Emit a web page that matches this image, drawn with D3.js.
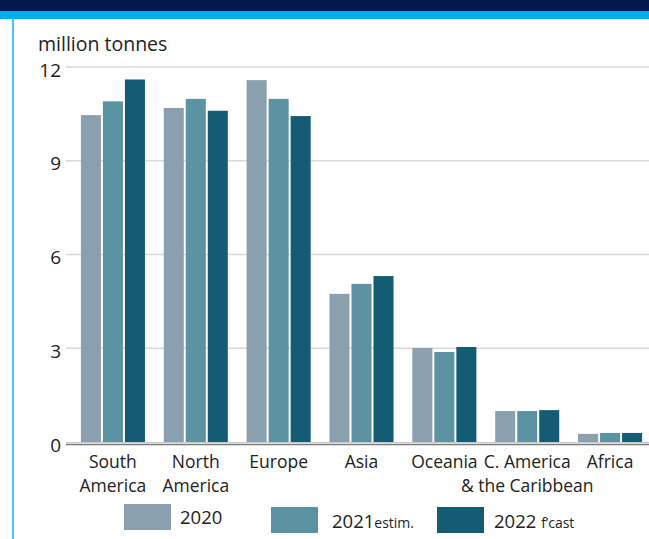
<!DOCTYPE html>
<html><head><meta charset="utf-8">
<script src="https://cdn.jsdelivr.net/npm/d3@7/dist/d3.min.js"></script>
<style>body{margin:0;background:#fff;} svg{display:block;font-family:"Open Sans",sans-serif;}</style>
</head><body>
<script>
const categories = [["South","America"],["North","America"],["Europe"],["Asia"],["Oceania"],["C. America","& the Caribbean"],["Africa"]];
const seriesNames = ["2020","2021","2022"];
const v2020 = [10.46, 10.69, 11.58, 4.74, 3.01, 0.99, 0.26];
const v2021 = [10.90, 10.98, 10.98, 5.06, 2.88, 0.99, 0.29];
const v2022 = [11.60, 10.60, 10.43, 5.31, 3.04, 1.02, 0.29];
const yTicks = [0, 3, 6, 9, 12];
const legendMain = ["2020", "2021", "2022 "];
const legendSub = ["", "estim.", "f\u2019cast"];
const colors = ["#8aa0ae", "#5b93a3", "#135c74"];

const W = 649, H = 539;
const svg = d3.select("body").append("svg").attr("width", W).attr("height", H);

// header bands
svg.append("rect").attr("x",0).attr("y",0).attr("width",W).attr("height",11).attr("fill","#001a4d");
svg.append("rect").attr("x",0).attr("y",11).attr("width",W).attr("height",8).attr("fill","#00aeef");
svg.append("rect").attr("x",12).attr("y",19).attr("width",2).attr("height",H-19).attr("fill","#4cc3f0");

const keys = categories.map((c,i)=>i);
const x = d3.scaleBand().domain(keys).range([71.5, 651.5]).paddingInner(0.227).paddingOuter(0.1135);
const xs = d3.scaleBand().domain([0,1,2]).range([0, x.bandwidth()]).paddingInner(0.09);
const y = d3.scaleLinear().domain([0, 12]).range([442, 67]);

// gridlines
svg.append("g").selectAll("line").data(yTicks.filter(t=>t>0)).join("line")
  .attr("x1", 66).attr("x2", W).attr("y1", d=>y(d)).attr("y2", d=>y(d))
  .attr("stroke", "#d9d9d9").attr("stroke-width", 1.5);

// y tick labels
svg.append("g").selectAll("text").data(yTicks).join("text")
  .attr("x", 61).attr("y", d=>y(d)+9.5).attr("text-anchor","end")
  .attr("font-size", 19).attr("fill", "#222").text(d=>d);

svg.append("text").attr("x", 38).attr("y", 50.5).attr("font-size", 19.5).attr("fill","#222").text("million tonnes");

// bars
const series = [v2020, v2021, v2022];
series.forEach((vals, si) => {
  svg.append("g").selectAll("rect").data(vals).join("rect")
    .attr("x", (d,i)=> x(i) + xs(si))
    .attr("width", xs.bandwidth())
    .attr("y", d=>y(d))
    .attr("height", d=> y(0)-y(d))
    .attr("fill", colors[si]);
});

// baseline
svg.append("line").attr("x1",66).attr("x2",W).attr("y1",y(0)+0.5).attr("y2",y(0)+0.5).attr("stroke","#c8c8c8").attr("stroke-width",1);
svg.append("line").attr("x1",66).attr("x2",W).attr("y1",y(0)+2.5).attr("y2",y(0)+2.5).attr("stroke","#7a7a7a").attr("stroke-width",1.5);

// category labels
const cl = svg.append("g").selectAll("text").data(categories).join("text")
  .attr("text-anchor","middle").attr("font-size", 17.5).attr("fill","#222");
cl.each(function(lines, i){
  const t = d3.select(this);
  lines.forEach((ln, k) => {
    t.append("tspan").attr("x", x(i)+x.bandwidth()/2).attr("y", 468 + k*24).text(ln);
  });
});

// legend
const lg = [
  {sx:124, sy:504, tx:180, ty:524},
  {sx:271, sy:507, tx:332, ty:528},
  {sx:437, sy:507, tx:494, ty:528}
];
lg.forEach((p, i) => {
  svg.append("rect").attr("x",p.sx).attr("y",p.sy).attr("width",47).attr("height",26).attr("fill",colors[i]);
  const t = svg.append("text").attr("x",p.tx).attr("y",p.ty).attr("font-size",18.5).attr("fill","#222");
  t.append("tspan").text(legendMain[i]);
  t.append("tspan").attr("font-size",14).text(legendSub[i]);
});
</script>
</body></html>
